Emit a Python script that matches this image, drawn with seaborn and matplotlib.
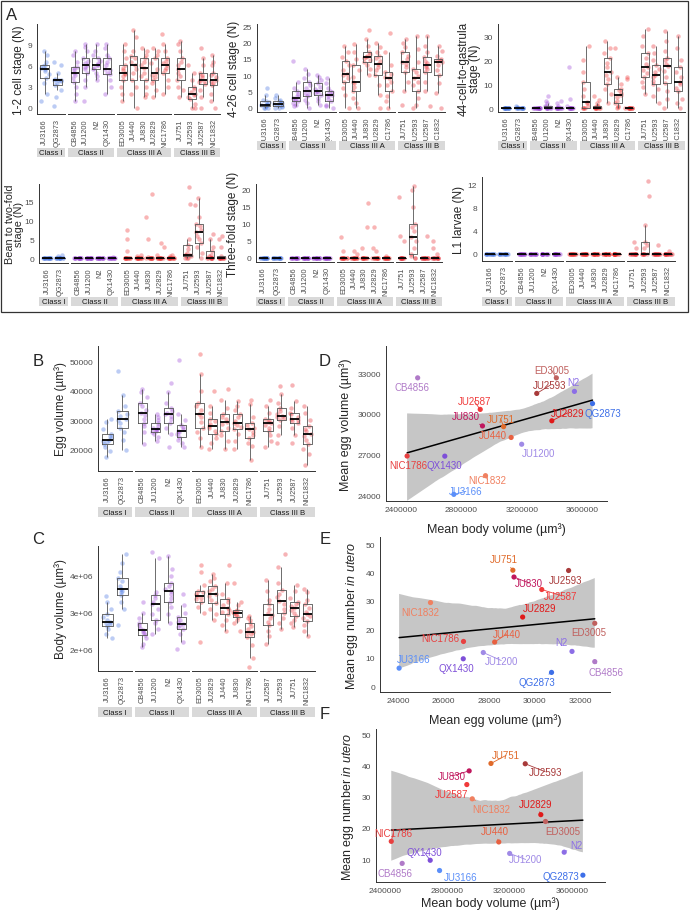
import numpy as np
import pandas as pd
import matplotlib
matplotlib.use("Agg")
import matplotlib.pyplot as plt
import seaborn as sns
from matplotlib.patches import Rectangle

np.random.seed(7)

W, H = 690, 912

CLASSES = ["Class I", "Class II", "Class III A", "Class III B"]
CLASS_COLORS = ["#3F6FE0", "#9A3FD6", "#EE2C2C", "#E8262E"]

GROUPS = [["JU3166", "QG2873"],
          ["CB4856", "JU1200", "N2", "QX1430"],
          ["ED3005", "JU440", "JU830", "JU2829", "NIC1786"],
          ["JU751", "JU2593", "JU2587", "NIC1832"]]
GROUPS_BODY = [["JU3166", "QG2873"],
               ["CB4856", "JU1200", "N2", "QX1430"],
               ["ED3005", "JU2829", "JU440", "JU830", "NIC1786"],
               ["JU2587", "JU2593", "JU751", "NIC1832"]]

# ---- panel A: number of embryos per stage, per worm ----
cell_1_2 = {
    "JU3166": [1, 2, 3.5, 4.2, 4.8, 5.2, 5.5, 5.7, 5.9, 6, 6.5, 7.5, 8],
    "QG2873": [0.3, 1.5, 2.5, 3.2, 3.5, 3.8, 4, 4, 4, 4.1, 5, 6, 6.5],
    "CB4856": [1, 2, 3, 3.7, 4.2, 4.7, 5, 5.3, 5.6, 5.8, 6.5, 7.5, 8],
    "JU1200": [1, 3, 4, 5, 5.5, 5.8, 6, 6.3, 6.7, 7, 8, 8.7, 9],
    "N2": [4, 4.5, 5, 5.5, 5.7, 6, 6, 6.3, 6.7, 7, 7.5, 8, 9],
    "QX1430": [2, 3, 4, 4.8, 5, 5.3, 5.5, 6, 6.5, 7, 7.5, 8.5, 9],
    "ED3005": [1, 2, 3, 4, 4.5, 4.8, 5, 5.3, 5.7, 6, 7, 8, 9],
    "JU440": [0, 2, 3, 4, 5, 5.5, 6, 6.5, 7, 7.3, 8, 10, 11],
    "JU830": [1.5, 2, 3, 4, 4.5, 5, 5.6, 6, 6.5, 7, 7.5, 8, 8.5],
    "JU2829": [1.5, 2.5, 3.5, 4, 4.3, 4.7, 5, 5.5, 6.3, 7, 7.5, 8, 8.5],
    "NIC1786": [2, 3, 4, 5, 5.3, 5.7, 6, 6.3, 6.7, 7, 8, 9, 10.5],
    "JU751": [1.5, 2.5, 3, 4, 4.5, 5, 5.5, 6, 6.5, 7, 8, 9, 9.5],
    "JU2593": [0, 0, 0.5, 1.2, 1.5, 1.8, 2, 2.3, 2.7, 3, 4, 5, 6],
    "JU2587": [0, 1.5, 2.5, 3.3, 3.6, 3.8, 4, 4.3, 4.7, 5, 6, 7, 8.5],
    "NIC1832": [0, 1, 2, 3.2, 3.5, 3.8, 4, 4.3, 4.7, 5, 6, 6.5, 7.5],
}
cell_4_26 = {
    "JU3166": [0, 0, 0, 0.5, 0.8, 1, 1, 1.3, 1.7, 2, 2.5, 4, 6],
    "QG2873": [0, 0, 0.3, 0.5, 0.8, 1, 1.2, 1.5, 1.8, 2, 2.5, 3, 4],
    "CB4856": [0.5, 1, 1.5, 2, 2.3, 2.7, 3, 3.5, 4.2, 5, 6, 8, 14.5],
    "JU1200": [0, 1.5, 2.5, 3.5, 4, 4.5, 5, 6, 7, 8, 9, 10.5, 12],
    "N2": [1, 2, 3, 4, 4.5, 4.8, 5, 5.7, 6.5, 7.5, 8.5, 9.5, 10],
    "QX1430": [0, 0.5, 1, 2, 2.8, 3.5, 4, 4.3, 4.7, 5, 6, 7.5, 9],
    "ED3005": [0, 4, 6, 8, 9, 10, 10.5, 11.5, 13, 14.3, 15.5, 17, 19],
    "JU440": [0, 1.5, 3, 5, 6.5, 7.5, 8, 9.5, 11.5, 13, 15, 17, 19.5],
    "JU830": [10, 12, 13, 14, 14.8, 15.2, 15.5, 16, 16.5, 17, 19, 21, 24],
    "JU2829": [0, 4, 7, 10, 11.5, 12.5, 13.5, 14.5, 15.3, 16, 17, 18.5, 20],
    "NIC1786": [0, 2, 3.5, 5, 7, 8, 9, 9.5, 10.3, 11, 13, 17, 23],
    "JU751": [1, 5, 8, 11, 12.5, 13.3, 14, 15, 16, 17, 18.5, 20, 21],
    "JU2593": [0, 1, 3, 5, 7, 8, 9, 9.8, 11, 12, 14, 18, 22],
    "JU2587": [0.5, 5, 8, 11, 12, 12.5, 13, 13.7, 14.5, 15.5, 17, 19, 22],
    "NIC1832": [0, 4.5, 7.5, 10, 11.5, 13, 14, 14.5, 14.8, 15, 16, 17.5, 19],
}
cell_44_gastrula = {
    "JU3166": [0, 0, 0, 0, 0, 0, 0, 0, 0, 0, 0, 0, 0],
    "QG2873": [0, 0, 0, 0, 0, 0, 0, 0, 0, 0, 0, 0.5, 1],
    "CB4856": [0, 0, 0, 0, 0, 0, 0, 0, 0, 0, 0, 0, 0],
    "JU1200": [0, 0, 0, 0, 0, 0, 0, 0.5, 1, 1, 2, 3, 5],
    "N2": [0, 0, 0, 0, 0, 0, 0, 0, 0, 0, 1, 2, 3],
    "QX1430": [0, 0, 0, 0, 0, 0, 0, 0, 0, 0, 1, 4, 17],
    "ED3005": [0, 0, 0, 0, 1, 2, 2.5, 5, 8, 11, 15, 20, 26],
    "JU440": [0, 0, 0, 0, 0, 0, 0, 0.5, 1, 1, 2, 3.5, 5],
    "JU830": [2, 6, 8, 10, 12, 14, 15, 17, 19, 21, 23, 25, 28],
    "JU2829": [0, 0.5, 1, 2, 3, 4.5, 5.5, 6.5, 7.5, 8, 10, 13, 25],
    "NIC1786": [0, 0, 0, 0, 0, 0, 0, 0, 0, 0, 0, 12, 13],
    "JU751": [6, 9, 11, 13, 14.5, 16, 17, 18.5, 21, 23, 26, 30, 33],
    "JU2593": [2, 5, 8, 10, 11.5, 13, 14, 15, 16.5, 18, 20, 23, 26],
    "JU2587": [0, 4, 7, 10.5, 13, 15.5, 17.5, 18.5, 20, 21, 24, 28, 32],
    "NIC1832": [0, 2, 4, 7, 8.5, 10, 11, 13, 15, 17, 20, 25, 30],
}
bean_two_fold = {
    "JU3166": [0, 0, 0, 0, 0, 0, 0, 0, 0, 0, 0, 0, 0],
    "QG2873": [0, 0, 0, 0, 0, 0, 0, 0, 0, 0, 0, 0.5, 1],
    "CB4856": [0, 0, 0, 0, 0, 0, 0, 0, 0, 0, 0, 0, 0],
    "JU1200": [0, 0, 0, 0, 0, 0, 0, 0, 0, 0, 0, 0, 0],
    "N2": [0, 0, 0, 0, 0, 0, 0, 0, 0, 0, 0, 0, 0],
    "QX1430": [0, 0, 0, 0, 0, 0, 0, 0, 0, 0, 0, 0, 0.3],
    "ED3005": [0, 0, 0, 0, 0, 0, 0, 0, 0, 0, 2, 5, 7.5],
    "JU440": [0, 0, 0, 0, 0, 0, 0, 0, 0, 0, 0, 0.5, 1],
    "JU830": [0, 0, 0, 0, 0, 0, 0, 0, 0, 0.3, 5, 11, 17],
    "JU2829": [0, 0, 0, 0, 0, 0, 0, 0, 0, 0, 1, 3, 4],
    "NIC1786": [0, 0, 0, 0, 0, 0, 0, 0, 0, 0, 0, 0.5, 1],
    "JU751": [0, 0, 0, 0.5, 0.8, 1, 1, 1.5, 2.5, 3.5, 5, 14.5, 19],
    "JU2593": [0, 1.5, 3, 4, 5, 6, 7, 7.5, 8.5, 9, 11, 14, 16],
    "JU2587": [0, 0, 0, 0, 0, 0, 0, 0.5, 1, 2, 3, 5, 6.5],
    "NIC1832": [0, 0, 0, 0, 0, 0, 0, 0, 0, 0.5, 3, 5, 6],
}
three_fold = {
    "JU3166": [0, 0, 0, 0, 0, 0, 0, 0, 0, 0, 0, 0, 0],
    "QG2873": [0, 0, 0, 0, 0, 0, 0, 0, 0, 0, 0, 0, 0],
    "CB4856": [0, 0, 0, 0, 0, 0, 0, 0, 0, 0, 0, 0, 0],
    "JU1200": [0, 0, 0, 0, 0, 0, 0, 0, 0, 0, 0, 0, 0],
    "N2": [0, 0, 0, 0, 0, 0, 0, 0, 0, 0, 0, 0, 0],
    "QX1430": [0, 0, 0, 0, 0, 0, 0, 0, 0, 0, 0, 0, 0],
    "ED3005": [0, 0, 0, 0, 0, 0, 0, 0, 0, 0, 0, 2, 6],
    "JU440": [0, 0, 0, 0, 0, 0, 0, 0, 0, 0, 0, 1, 2],
    "JU830": [0, 0, 0, 0, 0, 0, 0, 0, 0, 0, 3, 9, 16],
    "JU2829": [0, 0, 0, 0, 0, 0, 0, 0, 0, 0, 2, 3, 9],
    "NIC1786": [0, 0, 0, 0, 0, 0, 0, 0, 0, 0, 0, 0, 0.5],
    "JU751": [0, 0, 0, 0, 0, 0, 0, 0, 0, 0, 5, 6.5, 18],
    "JU2593": [0, 0, 0.5, 1, 3, 5, 6, 8, 9, 10, 15, 20, 21],
    "JU2587": [0, 0, 0, 0, 0, 0, 0, 0, 0, 0, 0, 0, 6.5],
    "NIC1832": [0, 0, 0, 0, 0, 0, 0, 0, 0, 0, 1, 3, 5],
}
l1_larvae = {
    "JU3166": [0, 0, 0, 0, 0, 0, 0, 0, 0, 0, 0, 0, 0],
    "QG2873": [0, 0, 0, 0, 0, 0, 0, 0, 0, 0, 0, 0, 0],
    "CB4856": [0, 0, 0, 0, 0, 0, 0, 0, 0, 0, 0, 0, 0],
    "JU1200": [0, 0, 0, 0, 0, 0, 0, 0, 0, 0, 0, 0, 0],
    "N2": [0, 0, 0, 0, 0, 0, 0, 0, 0, 0, 0, 0, 0],
    "QX1430": [0, 0, 0, 0, 0, 0, 0, 0, 0, 0, 0, 0, 0],
    "ED3005": [0, 0, 0, 0, 0, 0, 0, 0, 0, 0, 0, 0, 0],
    "JU440": [0, 0, 0, 0, 0, 0, 0, 0, 0, 0, 0, 0, 0],
    "JU830": [0, 0, 0, 0, 0, 0, 0, 0, 0, 0, 0, 0, 0],
    "JU2829": [0, 0, 0, 0, 0, 0, 0, 0, 0, 0, 0, 0, 0],
    "NIC1786": [0, 0, 0, 0, 0, 0, 0, 0, 0, 0, 0, 0, 0],
    "JU751": [0, 0, 0, 0, 0, 0, 0, 0, 0, 0, 0, 1, 2],
    "JU2593": [0, 0, 0, 0, 0, 0, 0, 1, 1.5, 2, 5, 10, 12.5],
    "JU2587": [0, 0, 0, 0, 0, 0, 0, 0, 0, 0, 0, 0, 1.5],
    "NIC1832": [0, 0, 0, 0, 0, 0, 0, 0, 0, 0, 0, 0, 0.5],
}

# ---- panel B: egg volume (um3) ----
egg_volume = {
    "JU3166": [17500, 19500, 21000, 22000, 22800, 23200, 23500, 24000, 24800, 25500, 27000, 29500, 30500],
    "QG2873": [20000, 23500, 26000, 27500, 29000, 30000, 30500, 31500, 32300, 33000, 35000, 38500, 46500],
    "CB4856": [22000, 26000, 28000, 29000, 30500, 31800, 32500, 33500, 35000, 36000, 38000, 39500, 40500],
    "JU1200": [23000, 24500, 25500, 26000, 26500, 26800, 27000, 27500, 28200, 29000, 30000, 31000, 32000],
    "N2": [21000, 25500, 27500, 29000, 30500, 31500, 32000, 32500, 33300, 34000, 36000, 39500, 42500],
    "QX1430": [21000, 22500, 23500, 24500, 25500, 26000, 26500, 27000, 27800, 28500, 30000, 32000, 50500],
    "ED3005": [21000, 24000, 26000, 27500, 29500, 31000, 32000, 33500, 35000, 36000, 40000, 45500, 52500],
    "JU440": [20500, 22500, 24000, 25500, 26500, 27300, 28000, 28800, 29800, 30500, 32500, 35000, 40000],
    "JU830": [20500, 23000, 25000, 26500, 27500, 28800, 29500, 30300, 31200, 32000, 34000, 37000, 40500],
    "JU2829": [20500, 23000, 25500, 27000, 27800, 28500, 29000, 29800, 31000, 32000, 33500, 35000, 36500],
    "NIC1786": [16500, 21500, 22500, 24000, 25000, 26200, 27000, 27500, 28300, 29000, 31000, 35500, 37000],
    "JU751": [21000, 23000, 25000, 26500, 27500, 28300, 29000, 29500, 30000, 30500, 32500, 35000, 37000],
    "JU2593": [22500, 25000, 28000, 30000, 30800, 31200, 31500, 32300, 33300, 34000, 36000, 39000, 41500],
    "JU2587": [22500, 25000, 27500, 29000, 29700, 30200, 30500, 31200, 32000, 32500, 34000, 36500, 42000],
    "NIC1832": [15000, 18500, 20500, 22000, 23500, 24800, 25500, 26300, 27200, 28000, 30000, 32500, 35000],
}

# ---- panel C: body volume (um3) ----
body_volume = {
    "JU3166": [2.30e6, 2.40e6, 2.55e6, 2.62e6, 2.68e6, 2.72e6, 2.75e6, 2.80e6, 2.88e6, 2.95e6, 3.10e6, 3.30e6, 3.45e6],
    "QG2873": [2.65e6, 3.10e6, 3.30e6, 3.48e6, 3.55e6, 3.60e6, 3.65e6, 3.72e6, 3.85e6, 3.95e6, 4.10e6, 4.35e6, 4.60e6],
    "CB4856": [2.05e6, 2.15e6, 2.30e6, 2.38e6, 2.43e6, 2.48e6, 2.52e6, 2.58e6, 2.65e6, 2.72e6, 2.85e6, 3.00e6, 3.30e6],
    "JU1200": [2.40e6, 2.55e6, 2.70e6, 2.80e6, 2.95e6, 3.10e6, 3.22e6, 3.30e6, 3.40e6, 3.48e6, 3.55e6, 4.50e6, 4.65e6],
    "N2": [2.70e6, 2.95e6, 3.15e6, 3.28e6, 3.40e6, 3.50e6, 3.58e6, 3.65e6, 3.72e6, 3.80e6, 4.00e6, 4.20e6, 4.55e6],
    "QX1430": [2.00e6, 2.20e6, 2.40e6, 2.55e6, 2.60e6, 2.65e6, 2.68e6, 2.73e6, 2.80e6, 2.88e6, 3.00e6, 3.20e6, 3.50e6],
    "ED3005": [2.20e6, 3.00e6, 3.15e6, 3.30e6, 3.36e6, 3.40e6, 3.45e6, 3.50e6, 3.55e6, 3.58e6, 3.75e6, 4.10e6, 4.30e6],
    "JU2829": [2.80e6, 2.95e6, 3.10e6, 3.25e6, 3.35e6, 3.45e6, 3.50e6, 3.58e6, 3.65e6, 3.72e6, 3.85e6, 3.95e6, 4.05e6],
    "JU440": [2.50e6, 2.65e6, 2.80e6, 2.95e6, 3.02e6, 3.08e6, 3.12e6, 3.20e6, 3.30e6, 3.38e6, 3.50e6, 3.80e6, 4.30e6],
    "JU830": [2.50e6, 2.70e6, 2.80e6, 2.88e6, 2.93e6, 2.97e6, 3.00e6, 3.02e6, 3.05e6, 3.08e6, 3.20e6, 3.30e6, 3.80e6],
    "NIC1786": [1.50e6, 1.75e6, 2.10e6, 2.32e6, 2.40e6, 2.45e6, 2.48e6, 2.55e6, 2.62e6, 2.70e6, 2.80e6, 2.85e6, 2.90e6],
    "JU2587": [2.15e6, 2.35e6, 2.50e6, 2.65e6, 2.75e6, 2.85e6, 2.92e6, 3.00e6, 3.10e6, 3.22e6, 3.35e6, 3.60e6, 3.90e6],
    "JU2593": [2.55e6, 2.70e6, 2.85e6, 3.00e6, 3.10e6, 3.22e6, 3.32e6, 3.42e6, 3.52e6, 3.62e6, 3.80e6, 4.25e6, 4.60e6],
    "JU751": [2.60e6, 2.70e6, 2.80e6, 2.90e6, 3.00e6, 3.08e6, 3.12e6, 3.17e6, 3.22e6, 3.28e6, 3.40e6, 3.60e6, 3.75e6],
    "NIC1832": [2.35e6, 2.50e6, 2.65e6, 2.78e6, 2.85e6, 2.90e6, 2.95e6, 3.02e6, 3.12e6, 3.22e6, 3.35e6, 3.55e6, 3.65e6],
}

# ---- panels D-F: strain means ----
mean_strains = ["JU3166", "QG2873", "CB4856", "JU1200", "N2", "QX1430", "ED3005", "JU440",
                "JU830", "JU2829", "NIC1786", "JU751", "JU2593", "JU2587", "NIC1832"]
mean_body_vol = [2750000, 3670000, 2510000, 3200000, 3550000, 2690000, 3430000, 3130000,
                 2940000, 3400000, 2440000, 3080000, 3300000, 2925000, 2960000]
mean_egg_vol = [24050, 30750, 32650, 27750, 31650, 26870, 32650, 28250,
                29100, 29480, 26880, 29050, 31500, 30320, 25430]
mean_egg_num = [6.3, 4.8, 8.6, 11.8, 12.2, 9.6, 22.1, 15.5,
                38.4, 24.3, 15.7, 40.8, 40.7, 34.0, 29.4]

STRAIN_COLORS = {
    "JU3166": "#5B8FF9", "QG2873": "#3D6FE8", "CB4856": "#B07AC8", "N2": "#8C6EE6",
    "JU1200": "#A08AE6", "QX1430": "#7E4FD8", "ED3005": "#C0605E", "JU2593": "#A83A3A",
    "JU2587": "#F03A3A", "JU830": "#C0175D", "JU751": "#E06A2A", "JU440": "#E86040",
    "JU2829": "#E01A1A", "NIC1786": "#E84040", "NIC1832": "#F08060",
}

# label offsets (pixels, y up) for the repelled labels
LABELS_D = {"CB4856": (-6, -9), "ED3005": (-5, 8), "JU2593": (13, 8), "N2": (-1, 9),
            "JU2587": (-6, 8), "QG2873": (10, -9), "JU830": (-17, 10), "JU751": (-3, 8),
            "JU2829": (16, 8), "JU440": (-18, 2), "JU1200": (17, -9), "NIC1786": (1, -9),
            "QX1430": (0, -9), "NIC1832": (2, -4), "JU3166": (12, 3)}
LABELS_E = {"JU751": (-9, 11), "JU830": (15, -6), "JU2593": (-3, -10), "JU2587": (19, -6),
            "NIC1832": (-10, -9), "JU2829": (17, 9), "ED3005": (-6, -9), "NIC1786": (-23, 3),
            "JU440": (12, 8), "JU1200": (18, -8), "N2": (-11, 9), "QX1430": (-7, -9),
            "CB4856": (11, -10), "JU3166": (15, 9), "QG2873": (-15, -10)}
LABELS_F = {"JU751": (15, 8), "JU2593": (20, -8), "JU830": (-17, -5), "JU2587": (-15, -9),
            "NIC1832": (19, -10), "JU2829": (-5, 11), "ED3005": (17, -10), "NIC1786": (2, 8),
            "JU440": (-4, 11), "JU1200": (16, -6), "N2": (12, 7), "QX1430": (-6, 8),
            "CB4856": (-7, -10), "JU3166": (21, -6), "QG2873": (-22, -1)}

sns.set_style("white")
plt.rcParams["font.family"] = ["Liberation Sans", "DejaVu Sans"]
plt.rcParams["mathtext.fontset"] = "custom"
plt.rcParams["mathtext.rm"] = "Liberation Sans"
plt.rcParams["mathtext.it"] = "Liberation Sans:italic"

TICK_COL = "#4D4D4D"
AXIS_COL = "#333333"
TICK_FS = 6
XCAT_FS = 5.3
LABEL_FS = 8.5


def rect(x, y, w, h):
    return [x / W, 1 - (y + h) / H, w / W, h / H]


def to_long(d):
    rows = [(s, v) for s, vals in d.items() for v in vals]
    return pd.DataFrame(rows, columns=["strain", "value"])


def faceted(fig, data, groups, box, strip, ylim, yticks, ylabel, yticklabels=None,
            ylabel_right=None, ylabel_fs=LABEL_FS):
    left, right, top, bottom = box
    df = to_long(data)
    widths = [len(g) + 1.2 for g in groups]
    gap = 3
    usable = right - left - gap * (len(groups) - 1)
    x0 = left
    for i, g in enumerate(groups):
        w = usable * widths[i] / sum(widths)
        ax = fig.add_axes(rect(x0, top, w, bottom - top))
        sub = df[df["strain"].isin(g)]
        sns.stripplot(data=sub, x="strain", y="value", order=g, ax=ax,
                      color=CLASS_COLORS[i], alpha=0.35, size=3.2, jitter=0.32,
                      linewidth=0, zorder=2)
        sns.boxplot(data=sub, x="strain", y="value", order=g, ax=ax, fill=False,
                    color="#555555", linewidth=0.6, width=0.72, showfliers=False,
                    showcaps=False, medianprops=dict(color="black", linewidth=1.3),
                    zorder=3)
        ax.set_xlim(-0.6, len(g) - 0.4)
        ax.set_ylim(*ylim)
        ax.set_xlabel("")
        ax.set_ylabel("")
        ax.tick_params(axis="x", labelrotation=90, labelsize=XCAT_FS, length=2, pad=1,
                       colors=TICK_COL, width=0.6)
        for sp in ("top", "right"):
            ax.spines[sp].set_visible(False)
        ax.spines["bottom"].set_color(AXIS_COL)
        ax.spines["bottom"].set_linewidth(0.7)
        if i == 0:
            ax.set_yticks(yticks)
            if yticklabels is not None:
                ax.set_yticklabels(yticklabels)
            ax.tick_params(axis="y", labelsize=TICK_FS, length=2, pad=1.5,
                           colors=TICK_COL, width=0.6)
            ax.set_ylabel(ylabel, fontsize=ylabel_fs, labelpad=2, linespacing=0.95)
            if ylabel_right is not None:
                ax.yaxis.set_label_coords((ylabel_right - x0) / w, 0.5)
            ax.spines["left"].set_color(AXIS_COL)
            ax.spines["left"].set_linewidth(0.7)
        else:
            ax.spines["left"].set_visible(False)
            ax.tick_params(axis="y", left=False, labelleft=False)
        sax = fig.add_axes(rect(x0, strip[0], w, strip[1]))
        sax.set_facecolor("#D9D9D9")
        sax.set_xticks([])
        sax.set_yticks([])
        for sp in sax.spines.values():
            sp.set_visible(False)
        sax.text(0.5, 0.45, CLASSES[i], ha="center", va="center", fontsize=5.6,
                 color="#1A1A1A", transform=sax.transAxes)
        x0 += w + gap


means = pd.DataFrame({"strain": mean_strains, "body": mean_body_vol,
                      "egg_vol": mean_egg_vol, "egg_num": mean_egg_num})


def scatter(fig, box, xcol, ycol, offsets, xlim, ylim, xticks, yticks, xlabel, ylabel,
            xpad=5):
    left, right, top, bottom = box
    ax = fig.add_axes(rect(left, top, right - left, bottom - top))
    sns.regplot(data=means, x=xcol, y=ycol, scatter=False, ci=95, seed=2,
                color="black", line_kws=dict(linewidth=1.1), ax=ax)
    for coll in ax.collections:
        coll.set_facecolor("#C6C6C6")
        coll.set_alpha(1)
        coll.set_edgecolor("none")
    sns.scatterplot(data=means, x=xcol, y=ycol, hue="strain", palette=STRAIN_COLORS,
                    s=14, linewidth=0, legend=False, ax=ax, zorder=4)
    for _, row in means.iterrows():
        col = STRAIN_COLORS[row["strain"]]
        ax.annotate(row["strain"], (row[xcol], row[ycol]), xytext=offsets[row["strain"]],
                    textcoords="offset pixels", ha="center", va="center", fontsize=7,
                    color=col, zorder=5,
                    arrowprops=dict(arrowstyle="-", color=col, lw=0.6,
                                    shrinkA=0, shrinkB=1.5))
    ax.set_xlim(*xlim)
    ax.set_ylim(*ylim)
    ax.set_xticks(xticks)
    ax.set_yticks(yticks)
    ax.ticklabel_format(style="plain", useOffset=False)
    ax.tick_params(labelsize=TICK_FS, length=2, pad=1.5, colors=TICK_COL, width=0.6)
    for sp in ("top", "right"):
        ax.spines[sp].set_visible(False)
    for sp in ("left", "bottom"):
        ax.spines[sp].set_color(AXIS_COL)
        ax.spines[sp].set_linewidth(0.7)
    ax.set_xlabel(xlabel, fontsize=9, labelpad=xpad)
    ax.set_ylabel(ylabel, fontsize=9, labelpad=4)


fig = plt.figure(figsize=(W / 100, H / 100), dpi=100)

# panel A frame
fig.add_artist(Rectangle((1 / W, 1 - 313 / H), 687 / W, 311 / H, transform=fig.transFigure,
                         fill=False, edgecolor="#333333", linewidth=0.9))

faceted(fig, cell_1_2, GROUPS, (37, 220, 25, 115), (149, 9), (-0.9, 11.9),
        [0, 3, 6, 9], "1-2 cell stage (N)")
faceted(fig, cell_4_26, GROUPS, (257, 445, 25, 113), (142, 9), (-1.3, 25.7),
        [0, 5, 10, 15, 20, 25], "4-26 cell stage (N)")
faceted(fig, cell_44_gastrula, GROUPS, (498, 685, 25, 113), (142, 9), (-1.6, 35.1),
        [0, 10, 20, 30], "44-cell-to-gastrula\nstage (N)")
faceted(fig, bean_two_fold, GROUPS, (39, 228, 185, 264), (298, 9), (-1.25, 19.7),
        [0, 5, 10, 15], "Bean to two-fold\nstage (N)", ylabel_right=24.5, ylabel_fs=7.8)
faceted(fig, three_fold, GROUPS, (256, 442, 185, 263), (298, 9), (-1.26, 21.7),
        [0, 5, 10, 15, 20], "Three-fold stage (N)")
faceted(fig, l1_larvae, GROUPS, (482, 675, 178, 262), (298, 9), (-1.2, 13.2),
        [0, 4, 8, 12], "L1 larvae (N)")

faceted(fig, egg_volume, GROUPS, (98, 315, 347, 472), (508, 10), (12920, 55060),
        [20000, 30000, 40000, 50000], "Egg volume (µm³)")
faceted(fig, body_volume, GROUPS_BODY, (98, 315, 547, 672), (708, 10), (1.40e6, 4.82e6),
        [2e6, 3e6, 4e6], "Body volume (µm³)", yticklabels=["2e+06", "3e+06", "4e+06"])

scatter(fig, (386, 607, 347, 502), "body", "egg_vol", LABELS_D, (2.30e6, 3.766e6),
        (23560, 35000), [2400000, 2800000, 3200000, 3600000], [24000, 27000, 30000, 33000],
        "Mean body volume (µm³)", "Mean egg volume (µm³)", xpad=7)
scatter(fig, (380, 610, 538, 693), "egg_vol", "egg_num", LABELS_E, (23210, 33320),
        (-2.1, 52.5), [24000, 26000, 28000, 30000, 32000], [0, 10, 20, 30, 40, 50],
        "Mean egg volume (µm³)", r"Mean egg number $\mathit{in\ utero}$", xpad=7)
scatter(fig, (376, 605, 730, 883), "body", "egg_num", LABELS_F, (2.342e6, 3.812e6),
        (2.6, 51.9), [2400000, 2800000, 3200000, 3600000], [10, 20, 30, 40, 50],
        "Mean body volume (µm³)", r"Mean egg number $\mathit{in\ utero}$", xpad=2)

for letter, x, y in [("A", 12, 15), ("B", 38, 362), ("C", 38, 540),
                     ("D", 325, 362), ("E", 325, 540), ("F", 325, 715)]:
    fig.text(x / W, 1 - y / H, letter, fontsize=12, ha="center", va="center")

fig.savefig("out.png", dpi=100)
